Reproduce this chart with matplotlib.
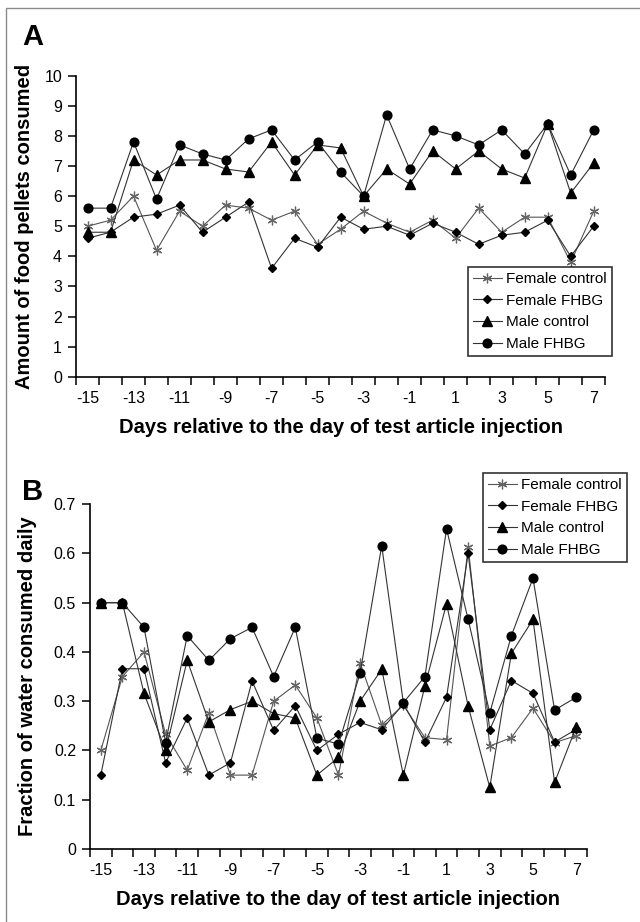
import matplotlib
matplotlib.use("Agg")
import matplotlib.pyplot as plt
from matplotlib.patches import Rectangle
import numpy as np

plt.rcParams['font.family'] = ['Liberation Sans', 'DejaVu Sans']

days = list(range(-15, 8))
day_labels = [str(d) for d in range(-15, 8, 2)]
series_names = ['Female control', 'Female FHBG', 'Male control', 'Male FHBG']

# panel A - food pellets
food_female_control = [5.0, 5.2, 6.0, 4.2, 5.5, 5.0, 5.7, 5.6, 5.2, 5.5, 4.4, 4.9,
                       5.5, 5.1, 4.8, 5.2, 4.6, 5.6, 4.8, 5.3, 5.3, 3.8, 5.5]
food_female_fhbg = [4.6, 4.8, 5.3, 5.4, 5.7, 4.8, 5.3, 5.8, 3.6, 4.6, 4.3, 5.3,
                    4.9, 5.0, 4.7, 5.1, 4.8, 4.4, 4.7, 4.8, 5.2, 4.0, 5.0]
food_male_control = [4.8, 4.8, 7.2, 6.7, 7.2, 7.2, 6.9, 6.8, 7.8, 6.7, 7.7, 7.6,
                     6.0, 6.9, 6.4, 7.5, 6.9, 7.5, 6.9, 6.6, 8.4, 6.1, 7.1]
food_male_fhbg = [5.6, 5.6, 7.8, 5.9, 7.7, 7.4, 7.2, 7.9, 8.2, 7.2, 7.8, 6.8,
                  6.0, 8.7, 6.9, 8.2, 8.0, 7.7, 8.2, 7.4, 8.4, 6.7, 8.2]

# panel B - water fraction
water_female_control = [0.2, 0.35, 0.4, 0.233, 0.16, 0.277, 0.15, 0.15, 0.3, 0.333, 0.266, 0.15,
                        0.378, 0.252, 0.292, 0.226, 0.222, 0.614, 0.209, 0.226, 0.286, 0.216, 0.23]
water_female_fhbg = [0.15, 0.366, 0.366, 0.175, 0.266, 0.15, 0.175, 0.341, 0.241, 0.291, 0.2, 0.233,
                     0.257, 0.242, 0.295, 0.217, 0.308, 0.6, 0.242, 0.342, 0.316, 0.217, 0.243]
water_male_control = [0.5, 0.5, 0.316, 0.2, 0.383, 0.258, 0.283, 0.3, 0.275, 0.266, 0.15, 0.186,
                      0.3, 0.365, 0.15, 0.331, 0.498, 0.29, 0.125, 0.397, 0.466, 0.135, 0.248]
water_male_fhbg = [0.5, 0.5, 0.45, 0.216, 0.433, 0.383, 0.427, 0.45, 0.35, 0.45, 0.225, 0.213,
                   0.357, 0.616, 0.297, 0.35, 0.65, 0.466, 0.276, 0.433, 0.55, 0.282, 0.308]

styles = [
    dict(marker=(6, 2, 0), markersize=7, markeredgecolor='#666666', markeredgewidth=0.9,
         color='#555555'),
    dict(marker='D', markersize=4.2, markerfacecolor='black', markeredgecolor='black', color='#333333'),
    dict(marker='^', markersize=6.5, markerfacecolor='black', markeredgecolor='black', color='#333333'),
    dict(marker='o', markersize=6.3, markerfacecolor='black', markeredgecolor='black', color='#333333'),
]


def style_axis(ax, yticks, ylabels, ylabel):
    for side in ['top', 'right']:
        ax.spines[side].set_visible(False)
    for side in ['left', 'bottom']:
        ax.spines[side].set_linewidth(1.2)
    ax.set_xlim(-15.5, 7.5)
    ax.set_xticks(np.arange(-15.5, 8.0, 1.0))
    ax.set_xticklabels([])
    ax.set_xticks(range(-15, 8, 2), minor=True)
    ax.set_xticklabels(day_labels, minor=True, fontsize=11.5)
    ax.tick_params(axis='x', which='major', direction='out', length=6, width=1.1)
    ax.tick_params(axis='x', which='minor', length=0, pad=10)
    ax.set_yticks(yticks)
    ax.set_yticklabels(ylabels, fontsize=11.5)
    ax.tick_params(axis='y', direction='out', length=6, width=1.1, pad=4)
    ax.set_xlabel('Days relative to the day of test article injection',
                  fontsize=14.5, fontweight='bold', labelpad=9)
    ax.set_ylabel(ylabel, fontsize=14.5, fontweight='bold', va='center')


fig = plt.figure(figsize=(6.4, 9.22), dpi=100)

# grey frame around figure
fig.patches.append(Rectangle((6 / 640, -0.1), 1.2, 1 - 8.3 / 922 + 0.1, transform=fig.transFigure,
                             fill=False, edgecolor='#8a8a8a', linewidth=1.0))

axA = fig.add_axes([0.11875, 0.5914, 0.8269, 0.3265])
for name, vals, st in zip(series_names,
                          [food_female_control, food_female_fhbg, food_male_control, food_male_fhbg],
                          styles):
    axA.plot(days, vals, linewidth=0.8, label=name, **st)
axA.set_ylim(0, 10)
style_axis(axA, range(0, 11), [str(v) for v in range(0, 11)], 'Amount of food pellets consumed')
axA.yaxis.set_label_coords(-0.098, 0.5)
legA = axA.legend(loc='upper right', bbox_to_anchor=(611.7 / 640, 1 - 266.7 / 922),
                  bbox_transform=fig.transFigure, fontsize=11, frameon=True, fancybox=False,
                  borderaxespad=0, handlelength=1.9, handletextpad=0.25, labelspacing=0.5,
                  borderpad=0.35)
legA.get_frame().set_edgecolor('black')
legA.get_frame().set_linewidth(1.2)

axB = fig.add_axes([0.1406, 0.0792, 0.7766, 0.3739])
for name, vals, st in zip(series_names,
                          [water_female_control, water_female_fhbg, water_male_control, water_male_fhbg],
                          styles):
    axB.plot(days, vals, linewidth=0.8, label=name, **st)
axB.set_ylim(0, 0.7)
b_ticks = [0, 0.1, 0.2, 0.3, 0.4, 0.5, 0.6, 0.7]
style_axis(axB, b_ticks, ['0'] + ['%.1f' % v for v in b_ticks[1:]], 'Fraction of water consumed daily')
axB.yaxis.set_label_coords(-0.125, 0.5)
legB = axB.legend(loc='upper right', bbox_to_anchor=(626.7 / 640, 1 - 472.7 / 922),
                  bbox_transform=fig.transFigure, fontsize=11, frameon=True, fancybox=False,
                  borderaxespad=0, handlelength=1.9, handletextpad=0.25, labelspacing=0.5,
                  borderpad=0.35)
legB.get_frame().set_edgecolor('black')
legB.get_frame().set_linewidth(1.2)

fig.text(33 / 640, 1 - 37 / 922, 'A', fontsize=21, fontweight='bold', ha='center', va='center')
fig.text(33 / 640, 1 - 492 / 922, 'B', fontsize=21, fontweight='bold', ha='center', va='center')

fig.savefig('out.png', dpi=100)
